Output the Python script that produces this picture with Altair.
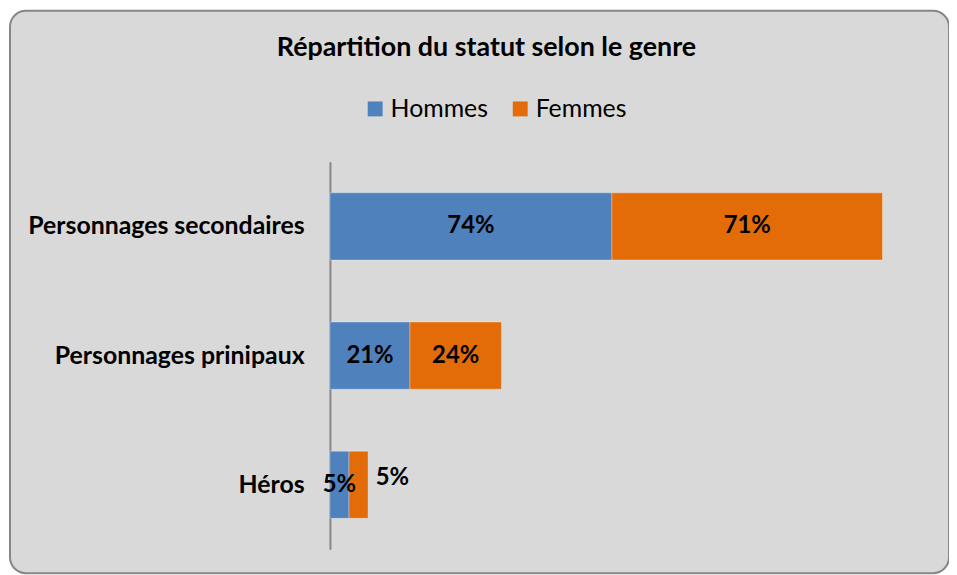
import altair as alt
import pandas as pd

categories = ["Personnages secondaires", "Personnages prinipaux", "Héros"]
series = ["Hommes", "Femmes"]
hommes = [74, 21, 5]
femmes = [71, 24, 5]
colors = ["#4f81bd", "#e36c09"]

rows = []
for i, c in enumerate(categories):
    start = 0
    for s, vals in zip(series, [hommes, femmes]):
        v = vals[i]
        rows.append({
            "cat": c, "genre": s, "value": v,
            "start": start, "end": start + v, "mid": start + v / 2,
            "label": f"{v}%",
            "shifted": (c == "Héros" and s == "Femmes"),
        })
        start += v
df = pd.DataFrame(rows)

FONT = "Lato"
xs = alt.Scale(domain=[0, 100], range=[322, 705.5])
ys = alt.Scale(domain=categories, range=[152, 542], paddingInner=0.48, paddingOuter=0.24)
yaxis = alt.Axis(title=None, offset=-322, domainColor="#868686", domainWidth=2,
                 ticks=False, grid=False, labelFont=FONT, labelFontSize=25,
                 labelFontWeight="bold", labelColor="black", labelPadding=26,
                 labelLimit=400)

base = alt.Chart(df)
bars = base.mark_bar(stroke="#ffffff", strokeWidth=0.6, strokeOpacity=0.5).encode(
    y=alt.Y("cat:N", scale=ys, axis=yaxis, sort=categories),
    x=alt.X("start:Q", scale=xs, axis=None),
    x2="end:Q",
    color=alt.Color("genre:N", scale=alt.Scale(domain=series, range=colors),
                    legend=alt.Legend(orient="none", legendX=355, legendY=86,
                                      direction="horizontal", title=None,
                                      symbolType="square", symbolSize=225,
                                      symbolStrokeWidth=0, labelFont=FONT,
                                      labelFontSize=25, labelColor="black",
                                      columnPadding=19, labelOffset=3)),
)

txt_kw = dict(font=FONT, fontSize=24, fontWeight="bold", color="black")
text_main = base.transform_filter("!datum.shifted").mark_text(**txt_kw).encode(
    x=alt.X("mid:Q", scale=xs, axis=None),
    y=alt.Y("cat:N", scale=ys, axis=yaxis, sort=categories),
    text="label:N",
)
text_shift = base.transform_filter("datum.shifted").mark_text(dx=34, dy=-7, **txt_kw).encode(
    x=alt.X("mid:Q", scale=xs, axis=None),
    y=alt.Y("cat:N", scale=ys, axis=yaxis, sort=categories),
    text="label:N",
)

chart = alt.layer(bars, text_main, text_shift).properties(
    width=945, height=566,
    padding={"left": 2, "top": 1, "right": 0, "bottom": 0},
    autosize="none",
    background="white",
    title=alt.TitleParams("Répartition du statut selon le genre", font=FONT,
                          fontSize=27, fontWeight="bold", color="black",
                          offset=-51, anchor="middle", dx=7),
).configure_view(
    fill="#d9d9d9", stroke="#868686", strokeWidth=2, cornerRadius=16
)

chart.save("out.html", embed_options={"renderer": "svg", "actions": False})
